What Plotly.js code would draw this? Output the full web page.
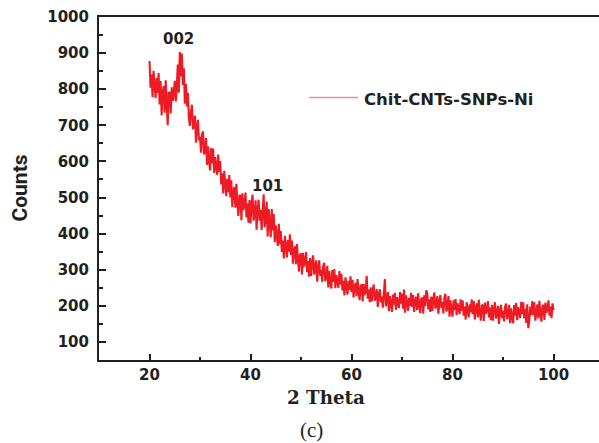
<!DOCTYPE html>
<html>
<head>
<meta charset="utf-8">
<script src="https://cdn.plot.ly/plotly-3.0.1.min.js"></script>
<style>html,body{margin:0;padding:0;background:#fff;}#chart{width:599px;height:443px;}</style>
</head>
<body>
<div id="chart"></div>
<script>
// ---- data ----
const seriesName = "Chit-CNTs-SNPs-Ni";
const twoThetaStart = 20;   // first 2θ value (deg)
const twoThetaStep = 0.2;   // 2θ step (deg)
const counts = [
  878, 804, 841, 778, 851, 821, 776, 831, 790, 845,
  758, 823, 728, 788, 809, 735, 825, 761, 700, 792,
  790, 733, 805, 768, 787, 823, 766, 805, 868, 790,
  903, 835, 899, 812, 858, 760, 815, 752, 790, 721,
  698, 738, 757, 689, 700, 727, 652, 695, 715, 658,
  668, 624, 676, 683, 619, 631, 665, 590, 642, 602,
  575, 637, 595, 636, 568, 612, 590, 563, 619, 571,
  601, 536, 567, 511, 574, 545, 504, 552, 515, 562,
  500, 548, 473, 515, 529, 472, 538, 486, 449, 505,
  507, 437, 512, 465, 481, 514, 445, 484, 430, 493,
  428, 480, 508, 436, 454, 492, 411, 467, 494, 436,
  466, 410, 486, 509, 418, 438, 489, 392, 468, 417,
  390, 468, 409, 454, 376, 423, 397, 366, 427, 371,
  407, 349, 381, 331, 394, 370, 334, 382, 350, 398,
  341, 381, 317, 353, 365, 315, 371, 327, 295, 342,
  343, 287, 347, 309, 322, 349, 293, 324, 281, 332,
  283, 320, 340, 287, 300, 326, 267, 306, 326, 283,
  300, 266, 311, 319, 268, 280, 311, 251, 296, 266,
  248, 299, 266, 302, 249, 285, 269, 250, 296, 259,
  289, 243, 269, 229, 279, 259, 231, 269, 244, 282,
  238, 272, 223, 254, 264, 227, 274, 239, 216, 256,
  257, 212, 260, 230, 241, 283, 220, 245, 210, 251,
  212, 243, 259, 214, 225, 246, 197, 230, 246, 210,
  226, 195, 237, 274, 199, 211, 238, 185, 227, 199,
  183, 231, 203, 236, 189, 224, 211, 194, 238, 206,
  234, 192, 245, 181, 229, 212, 186, 222, 200, 236,
  197, 230, 183, 214, 225, 188, 235, 202, 180, 219,
  223, 178, 229, 199, 243, 235, 190, 217, 183, 226,
  186, 219, 237, 192, 204, 227, 178, 212, 230, 194,
  211, 179, 224, 233, 184, 197, 227, 170, 215, 186,
  170, 215, 188, 219, 174, 207, 194, 177, 218, 187,
  215, 173, 198, 162, 210, 193, 168, 204, 182, 218,
  177, 213, 162, 195, 207, 168, 217, 183, 159, 201,
  203, 158, 209, 178, 188, 213, 168, 195, 160, 203,
  159, 192, 210, 165, 176, 200, 150, 185, 203, 166,
  186, 157, 197, 206, 163, 175, 203, 152, 193, 166,
  152, 202, 173, 208, 160, 196, 182, 166, 211, 178,
  210, 165, 192, 153, 204, 138, 159, 198, 174, 213,
  174, 210, 159, 192, 204, 165, 214, 180, 156, 198,
  203, 161, 209, 181, 192, 215, 173, 198, 166, 207,
  188
];
const xTickVals = [20, 40, 60, 80, 100];
const yTickVals = [100, 200, 300, 400, 500, 600, 700, 800, 900, 1000];
const peakLabels = ["002", "101"];
const peakX = [25.7, 43.4];
const peakY = [939, 531];
const xTitle = "2 Theta";
const yTitle = "Counts";
const panelLabel = "(c)";

// ---- styles ----
const ink = "#231f20";
const red = "#ed1c24";
const tickFont = {family: "DejaVu Sans", size: 15, color: ink, weight: 700};

const trace = {
  type: "scatter", mode: "lines", name: seriesName,
  x0: twoThetaStart, dx: twoThetaStep, y: counts,
  line: {color: red, width: 2.1}, showlegend: false, hoverinfo: "skip"
};

const annotations = peakLabels.map((t, i) => ({
  text: t, x: peakX[i], y: peakY[i], xref: "x", yref: "y",
  showarrow: false, font: tickFont, xanchor: "center", yanchor: "middle"
}));
annotations.push(
  {text: yTitle, xref: "paper", yref: "paper", x: -0.16, y: 0.5, textangle: -90,
   showarrow: false, xanchor: "center", yanchor: "middle",
   font: {family: "Roboto", size: 21, color: ink, weight: 700}},
  {text: xTitle, xref: "paper", yref: "paper", x: 0.454, y: -0.108,
   showarrow: false, xanchor: "center", yanchor: "middle",
   font: {family: "DejaVu Serif", size: 18.3, color: ink, weight: 700}},
  {text: panelLabel, xref: "paper", yref: "paper", x: 0.425, y: -0.203,
   showarrow: false, xanchor: "center", yanchor: "middle",
   font: {family: "Liberation Serif", size: 21, color: ink}},
  {text: seriesName, xref: "paper", yref: "paper", x: 0.526, y: 0.76,
   showarrow: false, xanchor: "left", yanchor: "middle",
   font: {family: "DejaVu Sans", size: 16.5, color: ink, weight: 700}}
);

const layout = {
  width: 599, height: 443,
  margin: {l: 99, r: 0, t: 17, b: 83, pad: 0},
  paper_bgcolor: "#fff", plot_bgcolor: "#fff",
  xaxis: {
    range: [10, 109.0], tickvals: xTickVals, ticks: "inside", ticklen: 6, tickwidth: 2,
    tickcolor: ink, showline: true, linecolor: ink, linewidth: 2, mirror: true,
    showgrid: false, zeroline: false, tickfont: tickFont, ticklabelstandoff: 0,
    minor: {tickvals: [30, 50, 70, 90], ticks: "inside", ticklen: 3, tickwidth: 2, tickcolor: ink, showgrid: false},
    automargin: false
  },
  yaxis: {
    range: [50, 1000], tickvals: yTickVals, ticks: "inside", ticklen: 7, tickwidth: 2,
    tickcolor: ink, showline: true, linecolor: ink, linewidth: 2, mirror: false,
    showgrid: false, zeroline: false, tickfont: tickFont, ticklabelstandoff: 5,
    minor: {tickvals: [150, 250, 350, 450, 550, 650, 750, 850, 950], ticks: "inside", ticklen: 4, tickwidth: 2, tickcolor: ink, showgrid: false},
    automargin: false
  },
  shapes: [
    {type: "line", xref: "paper", yref: "paper", x0: 0.42, x1: 0.518, y0: 0.765, y1: 0.765,
     line: {color: "#f28b8b", width: 1.5}}
  ],
  annotations: annotations,
  showlegend: false
};

Plotly.newPlot("chart", [trace], layout, {staticPlot: true, displayModeBar: false});
</script>
</body>
</html>
